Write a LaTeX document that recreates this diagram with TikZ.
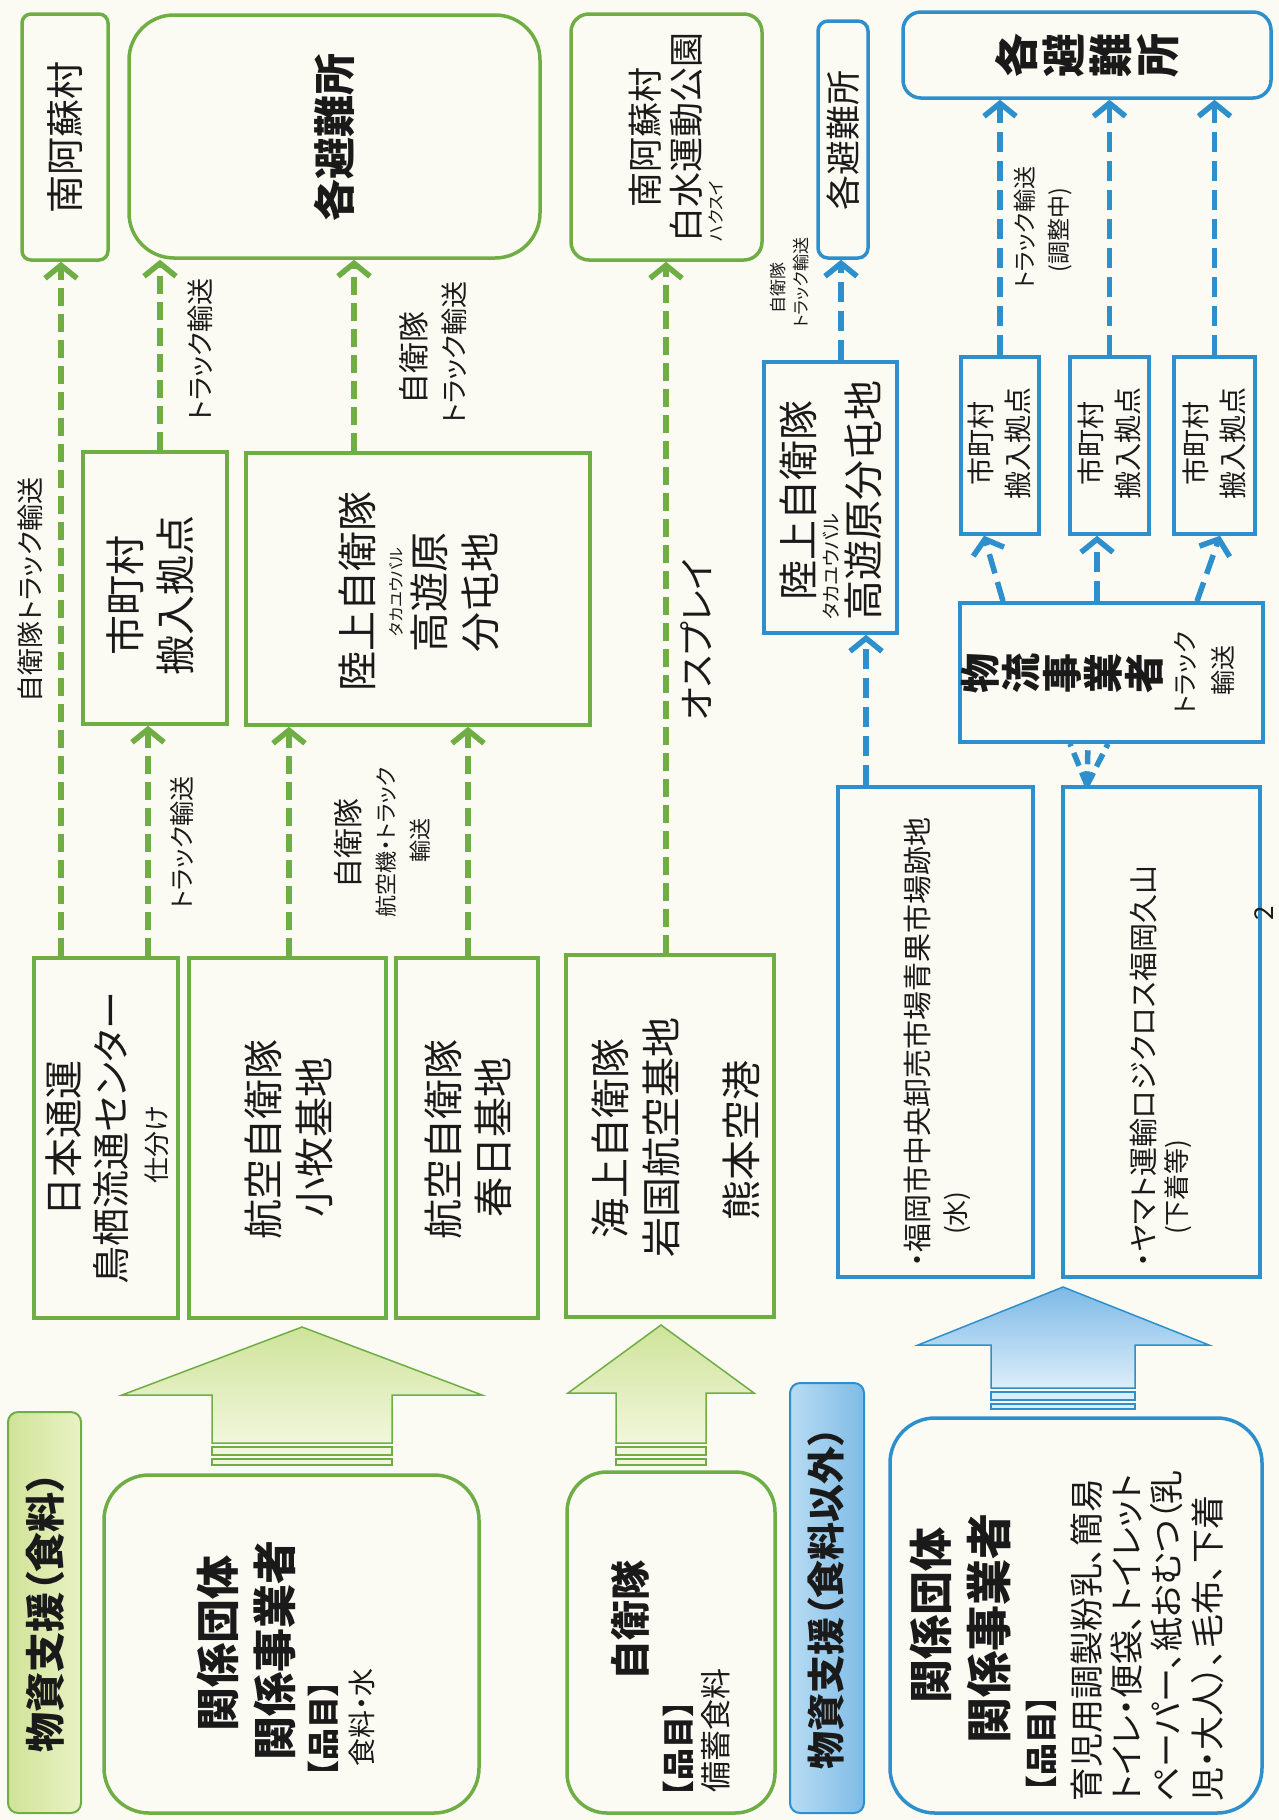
\documentclass[tikz,border=0pt]{standalone}
\usepackage{fontspec}
\setmainfont{Noto Sans CJK JP}[RawFeature=+palt]
\usetikzlibrary{arrows.meta}
\definecolor{gline}{HTML}{6FAE45}
\definecolor{bline}{HTML}{2D8FCB}
\definecolor{bgc}{HTML}{FCFBF3}
\definecolor{ink}{HTML}{1A1A1A}
\definecolor{gfillA}{HTML}{CFE39A}
\definecolor{gfillB}{HTML}{F1F7DC}
\definecolor{bfillA}{HTML}{7DB9E6}
\definecolor{bfillB}{HTML}{DCEEFA}
\definecolor{glabA}{HTML}{D0E398}
\definecolor{glabB}{HTML}{E9F2C4}
\definecolor{blabA}{HTML}{B8DCF3}
\definecolor{blabB}{HTML}{7EBBE6}
\newcommand{\fz}[1]{\fontsize{#1pt}{#1pt}\selectfont}
\begin{document}
\begin{tikzpicture}[x=1pt,y=-1pt,
  gbox/.style={draw=gline,line width=3.5pt},
  bbox/.style={draw=bline,line width=3.5pt},
  rt/.style={rotate=90,inner sep=0pt,text=ink},
  gdash/.style={draw=gline,line width=5.5pt,dash pattern=on 18pt off 8pt,-{Straight Barb[length=13pt,width=32pt]}},
  bdash/.style={draw=bline,line width=5.5pt,dash pattern=on 20pt off 9pt,-{Straight Barb[length=13pt,width=32pt]}},
  bdashplain/.style={draw=bline,line width=5.5pt,dash pattern=on 14pt off 7pt},
  garrow/.style={draw=gline,line width=1.5pt,top color=gfillA,bottom color=gfillB},
  barrow/.style={draw=bline,line width=1.5pt,top color=bfillA,bottom color=bfillB},
  gstripe/.style={draw=gline,line width=1.2pt,fill=gfillB},
  bstripe/.style={draw=bline,line width=1.2pt,fill=bfillB}]
\fill[bgc] (0,0) rectangle (1279,1820);
\useasboundingbox (0,0) rectangle (1279,1820);

% ---------- green boxes
\node[gbox,minimum width=86pt,minimum height=246pt,rounded corners=9pt] (g1) at (65,137) {};
\node[gbox,minimum width=411pt,minimum height=243pt,rounded corners=45pt] (g2) at (334.5,136.5) {};
\node[gbox,minimum width=191pt,minimum height=246pt,rounded corners=18pt] (g3) at (666.5,137) {};
\node[gbox,minimum width=144pt,minimum height=272pt] (gmc) at (155,588) {};
\node[gbox,minimum width=344pt,minimum height=272pt] (grk) at (418,589) {};
\node[gbox,minimum width=144pt,minimum height=360pt] (gnt) at (106,1138) {};
\node[gbox,minimum width=197pt,minimum height=360pt] (gkm) at (287.5,1138) {};
\node[gbox,minimum width=142pt,minimum height=360pt] (gks) at (467,1138) {};
\node[gbox,minimum width=208pt,minimum height=362pt] (gkj) at (670,1136) {};
\node[gbox,minimum width=375pt,minimum height=338pt,rounded corners=45pt] (gs1) at (291.5,1644) {};
\node[gbox,minimum width=208pt,minimum height=341pt,rounded corners=40pt] (gs2) at (671,1642.5) {};
\node[draw=gline,line width=2pt,rounded corners=10pt,left color=glabA,right color=glabB,minimum width=73pt,minimum height=401pt] (glab) at (44.5,1612.5) {};

% ---------- blue boxes
\node[bbox,minimum width=50pt,minimum height=237pt,rounded corners=10pt] (bsm) at (843,139.5) {};
\node[bbox,minimum width=368pt,minimum height=86pt,rounded corners=18pt] (bbig) at (1087,55) {};
\node[bbox,minimum width=133pt,minimum height=271pt] (brk) at (830.5,497.5) {};
\node[bbox,minimum width=78pt,minimum height=177pt] (bm1) at (1000,445.5) {};
\node[bbox,minimum width=79pt,minimum height=177pt] (bm2) at (1109.5,445.5) {};
\node[bbox,minimum width=81pt,minimum height=177pt] (bm3) at (1214.5,445.5) {};
\node[bbox,minimum width=303pt,minimum height=139pt] (bbt) at (1111.5,672.5) {};
\node[bbox,minimum width=195pt,minimum height=490pt] (bfk) at (935.5,1032) {};
\node[bbox,minimum width=197pt,minimum height=490pt] (bym) at (1161.5,1032) {};
\node[bbox,minimum width=372pt,minimum height=395pt,rounded corners=45pt] (bs1) at (1076,1615.5) {};
\node[draw=bline,line width=2pt,rounded corners=10pt,left color=blabA,right color=blabB,minimum width=74pt,minimum height=430pt] (blab) at (827,1598) {};

% ---------- big arrows
\path[garrow] (302,1327) -- (482,1395) -- (392,1395) -- (392,1443) -- (212,1443) -- (212,1395) -- (122,1395) -- cycle;
\draw[gstripe] (212,1447) rectangle (392,1455);
\draw[gstripe] (212,1459) rectangle (392,1465);
\path[garrow] (661,1325) -- (754,1393) -- (706,1393) -- (706,1443) -- (616,1443) -- (616,1393) -- (568,1393) -- cycle;
\draw[gstripe] (616,1447) rectangle (706,1455);
\draw[gstripe] (616,1459) rectangle (706,1465);
\path[barrow] (1063,1287) -- (1209,1345) -- (1135,1345) -- (1135,1388) -- (991,1388) -- (991,1345) -- (918,1345) -- cycle;
\draw[bstripe] (991,1392) rectangle (1135,1400);
\draw[bstripe] (991,1404) rectangle (1135,1409);

% ---------- green connectors
\draw[gdash] ([xshift=-45pt]gnt.north) -- ([xshift=-4pt]g1.south);
\draw[gdash] ([xshift=5pt]gmc.north) -- ([xshift=-174.5pt]g2.south);
\draw[gdash] ([xshift=-64pt]grk.north) -- ([xshift=19.5pt]g2.south);
\draw[gdash] ([xshift=-4pt]gkj.north) -- ([xshift=-0.5pt]g3.south);
\draw[gdash] ([xshift=42pt]gnt.north) -- ([xshift=-7pt]gmc.south);
\draw[gdash] ([xshift=1.5pt]gkm.north) -- ([xshift=-129pt]grk.south);
\draw[gdash] ([xshift=1pt]gks.north) -- ([xshift=50pt]grk.south);

% ---------- blue connectors
\draw[bdash] ([xshift=10.5pt]brk.north) -- ([xshift=-2pt]bsm.south);
\draw[bdash] ([xshift=-69.5pt]bfk.north) -- ([xshift=35.5pt]brk.south);
\draw[bdash] ([xshift=-108.5pt]bbt.north) -- ([xshift=-16pt]bm1.south);
\draw[bdash] ([xshift=-14.5pt]bbt.north) -- ([xshift=-12.5pt]bm2.south);
\draw[bdash] ([xshift=85.5pt]bbt.north) -- ([xshift=5.5pt]bm3.south);
\draw[bdash] (bm1.north) -- ([xshift=-87pt]bbig.south);
\draw[bdash] (bm2.north) -- ([xshift=22.5pt]bbig.south);
\draw[bdash] (bm3.north) -- ([xshift=127.5pt]bbig.south);
\draw[bdashplain] ([xshift=-74.5pt]bym.north) -- ([xshift=-41.5pt]bbt.south);
\draw[bdashplain] ([xshift=-74.5pt]bym.north) -- ([xshift=-23.5pt]bbt.south);
\draw[bdashplain] ([xshift=-74.5pt]bym.north) -- ([xshift=-3.5pt]bbt.south);

% ---------- green texts
\node[rt,font=\fz{38}] (t1) at (65,137) {南阿蘇村};
\node[rt,font=\fz{42}\bfseries] (t2) at (334,137) {各避難所};
\node[rt,font=\fz{35}] (t3) at (645,137) {南阿蘇村};
\node[rt,font=\fz{35}] (t4) at (686,137) {白水運動公園};
\node[rt,font=\fz{17},anchor=west] (t5) at (716,242) {ハクスイ};
\node[rt,font=\fz{40}] (t6) at (125,595) {市町村};
\node[rt,font=\fz{40}] (t7) at (175,595) {搬入拠点};
\node[rt,font=\fz{40}] (t8) at (357,591) {陸上自衛隊};
\node[rt,font=\fz{16}] (t9) at (396,592) {タカユウバル};
\node[rt,font=\fz{40}] (t10) at (429,592) {高遊原};
\node[rt,font=\fz{40}] (t11) at (480,592) {分屯地};
\node[rt,font=\fz{39}] (t12) at (64,1138) {日本通運};
\node[rt,font=\fz{38}] (t13) at (111,1138) {鳥栖流通センター};
\node[rt,font=\fz{26}] (t14) at (157,1145) {仕分け};
\node[rt,font=\fz{40}] (t15) at (263,1139) {航空自衛隊};
\node[rt,font=\fz{40}] (t16) at (314,1137) {小牧基地};
\node[rt,font=\fz{40}] (t17) at (443,1139) {航空自衛隊};
\node[rt,font=\fz{40}] (t18) at (493,1137) {春日基地};
\node[rt,font=\fz{40}] (t19) at (610,1138) {海上自衛隊};
\node[rt,font=\fz{40}] (t20) at (661,1137) {岩国航空基地};
\node[rt,font=\fz{40}] (t21) at (741,1140) {熊本空港};
\node[rt,font=\fz{44}\bfseries] (t22) at (218,1643) {関係団体};
\node[rt,font=\fz{44}\bfseries] (t23) at (275,1650) {関係事業者};
\node[rt,font=\fz{32}\bfseries,anchor=west] (t24) at (323,1777) {【品目】};
\node[rt,font=\fz{28},anchor=west] (t25) at (362,1767) {食料・水};
\node[rt,font=\fz{40}\bfseries] (t26) at (630,1620) {自衛隊};
\node[rt,font=\fz{32}\bfseries,anchor=west] (t27) at (678,1797) {【品目】};
\node[rt,font=\fz{31},anchor=west] (t28) at (716,1793) {備蓄食料};
\node[rt,font=\fz{40}\bfseries] (t29) at (45,1612) {物資支援（食料）};
\node[rt,font=\fz{27}] (t30) at (30,590) {自衛隊トラック輸送};
\node[rt,font=\fz{27}] (t31) at (200,350) {トラック輸送};
\node[rt,font=\fz{31}] (t32) at (414,358) {自衛隊};
\node[rt,font=\fz{27}] (t33) at (454,353) {トラック輸送};
\node[rt,font=\fz{36}] (t34) at (696,640) {オスプレイ};
\node[rt,font=\fz{25}] (t35) at (182,843) {トラック輸送};
\node[rt,font=\fz{30}] (t36) at (348,843) {自衛隊};
\node[rt,font=\fz{22}] (t37) at (386,842) {航空機・トラック};
\node[rt,font=\fz{22}] (t38) at (420,840) {輸送};

% ---------- blue texts
\node[rt,font=\fz{35}] (u1) at (843,140) {各避難所};
\node[rt,align=center,font=\fontsize{44pt}{47pt}\selectfont\bfseries] (u2) at (1087,55) {各\\避\\難\\所};
\node[rt,font=\fz{40}] (u3) at (798,500) {陸上自衛隊};
\node[rt,font=\fz{19},anchor=west] (u4) at (831,620) {タカユウバル};
\node[rt,font=\fz{40}] (u5) at (863,500) {高遊原分屯地};
\node[rt,font=\fz{17}] (u6) at (778,288) {自衛隊};
\node[rt,font=\fz{17}] (u7) at (801,283) {トラック輸送};
\node[rt,font=\fz{23}] (u8) at (1025,228) {トラック輸送};
\node[rt,font=\fz{23}] (u9) at (1060,230) {(調整中)};
\node[rt,font=\fz{28}] (u10) at (981,443) {市町村};
\node[rt,font=\fz{28}] (u11) at (1018,443) {搬入拠点};
\node[rt,font=\fz{28}] (u12) at (1090.5,443) {市町村};
\node[rt,font=\fz{28}] (u13) at (1127.5,443) {搬入拠点};
\node[rt,font=\fz{28}] (u14) at (1195.5,443) {市町村};
\node[rt,font=\fz{28}] (u15) at (1232.5,443) {搬入拠点};
\node[rt,align=center,font=\fontsize{40pt}{41pt}\selectfont\bfseries] (u16) at (1062,673) {物\\流\\事\\業\\者};
\node[rt,font=\fz{25}] (u17) at (1185,673) {トラック};
\node[rt,font=\fz{25}] (u18) at (1223,670) {輸送};
\node[rt,font=\fz{29},anchor=west] (u19) at (917,1267) {・福岡市中央卸売市場青果市場跡地};
\node[rt,font=\fz{26},anchor=west] (u20) at (957,1235) {(水)};
\node[rt,font=\fz{29},anchor=west] (u21) at (1143,1267) {・ヤマト運輸ロジクロス福岡久山};
\node[rt,font=\fz{26},anchor=west] (u22) at (1178,1235) {(下着等)};
\node[rt,font=\fz{44}\bfseries] (u23) at (931,1615) {関係団体};
\node[rt,font=\fz{46}\bfseries] (u24) at (989,1628) {関係事業者};
\node[rt,font=\fz{32}\bfseries,anchor=west] (u25) at (1041,1792) {【品目】};
\node[rt,font=\fz{34},anchor=west] (u26) at (1087,1802) {育児用調製粉乳、簡易};
\node[rt,font=\fz{34},anchor=west] (u27) at (1127,1802) {トイレ・便袋、トイレット};
\node[rt,font=\fz{34},anchor=west] (u28) at (1167,1802) {ペーパー、紙おむつ（乳};
\node[rt,font=\fz{34},anchor=west] (u29) at (1208,1802) {児・大人）、毛布、下着};
\node[rt,font=\fz{38}\bfseries] (u30) at (826,1598) {物資支援（食料以外）};
\node[rt,font=\fz{26}] (u31) at (1264,913) {2};
\end{tikzpicture}
\end{document}
